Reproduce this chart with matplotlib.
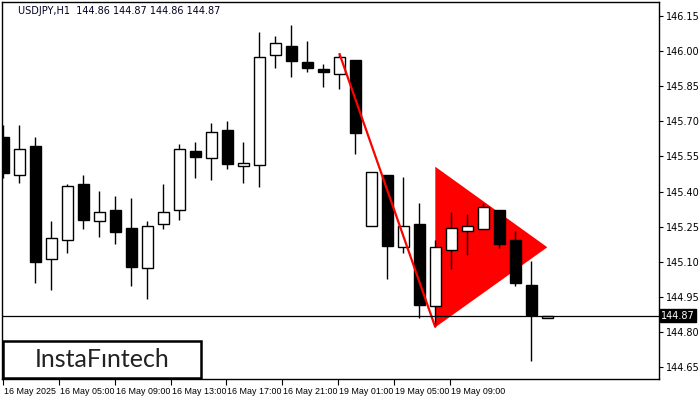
import matplotlib
matplotlib.use("Agg")
import matplotlib.pyplot as plt
import numpy as np
from matplotlib.patches import Rectangle
from matplotlib.transforms import offset_copy

# ---- data ----
opens  = [145.634, 145.469, 145.594, 145.110, 145.191, 145.432, 145.273, 145.321, 145.244, 145.072,
          145.260, 145.320, 145.573, 145.542, 145.663, 145.510, 145.512, 145.982, 146.020, 145.953,
          145.924, 145.901, 145.961, 145.251, 145.471, 145.162, 145.261, 144.909, 145.149, 145.230,
          145.241, 145.321, 145.193, 145.000, 144.860]
highs  = [145.684, 145.684, 145.634, 145.274, 145.433, 145.471, 145.402, 145.381, 145.372, 145.274,
          145.433, 145.603, 145.612, 145.693, 145.701, 145.612, 146.082, 146.065, 146.112, 146.043,
          145.945, 145.990, 145.961, 145.482, 145.471, 145.462, 145.351, 145.193, 145.312, 145.304,
          145.350, 145.321, 145.231, 145.103, 144.870]
lows   = [145.459, 145.438, 145.010, 144.980, 145.138, 145.241, 145.207, 145.177, 144.997, 144.939,
          145.241, 145.280, 145.459, 145.450, 145.496, 145.438, 145.421, 145.929, 145.891, 145.911,
          145.848, 145.839, 145.562, 145.251, 145.027, 145.138, 144.858, 144.820, 145.070, 145.130,
          145.241, 145.160, 144.997, 144.677, 144.860]
closes = [145.480, 145.580, 145.100, 145.200, 145.424, 145.280, 145.311, 145.228, 145.079, 145.251,
          145.311, 145.580, 145.549, 145.653, 145.519, 145.522, 145.974, 146.033, 145.959, 145.929,
          145.912, 145.974, 145.651, 145.482, 145.168, 145.251, 144.916, 145.162, 145.243, 145.251,
          145.332, 145.177, 145.010, 144.872, 144.870]

pole_x = [21, 27]
pole_y = [145.991, 144.820]
flag_x = [27, 27, 34]
flag_y = [145.506, 144.820, 145.162]

current_price = 144.87
y_ticks = [146.15, 146.00, 145.85, 145.70, 145.55, 145.40, 145.25, 145.10, 144.95, 144.80, 144.65]
x_tick_pos = [0.0, 3.48, 6.99, 10.48, 13.9, 17.4, 20.9, 24.4, 27.9]
x_tick_labels = ["16 May 2025", "16 May 05:00", "16 May 09:00", "16 May 13:00", "16 May 17:00",
                 "16 May 21:00", "19 May 01:00", "19 May 05:00", "19 May 09:00"]
header = "USDJPY,H1  144.86 144.87 144.86 144.87"

# ---- figure ----
fig = plt.figure(figsize=(7, 4), dpi=100)
ax = fig.add_axes([2/700, 1 - 379/400, 657/700, 377/400])
ax.set_xlim(-0.08, 40.98)
ax.set_ylim(144.599, 146.21)

x = np.arange(len(opens))
o = np.array(opens); c = np.array(closes); h = np.array(highs); l = np.array(lows)
bull = c >= o

# pattern (behind candles)
ax.fill(flag_x, flag_y, color="#ff0000", lw=0, zorder=1)

# wicks
ax.vlines(x, l, h, color="black", lw=1, zorder=2)
# bodies
bottoms = np.minimum(o, c)
heights = np.maximum(np.abs(c - o), 0.004)
ax.bar(x[bull], heights[bull], bottom=bottoms[bull], width=0.68,
       facecolor="white", edgecolor="black", lw=1, zorder=3)
ax.bar(x[~bull], heights[~bull], bottom=bottoms[~bull], width=0.68,
       facecolor="black", edgecolor="black", lw=1, zorder=3)

# pole line
ax.plot(pole_x, pole_y, color="#ff0000", lw=1.6, zorder=4, solid_capstyle="butt")

# current price line
ax.axhline(current_price, color="black", lw=0.9, zorder=5)

# axes styling
for s in ax.spines.values():
    s.set_linewidth(1)
    s.set_color("black")
ax.yaxis.tick_right()
ax.set_yticks(y_ticks)
ax.set_yticklabels([f"{v:.2f}" for v in y_ticks])
ax.set_xticks(x_tick_pos)
ax.set_xticklabels(x_tick_labels)
ax.tick_params(axis="y", direction="out", length=3, width=0.8, labelsize=7, pad=2, colors="black")
ax.tick_params(axis="x", direction="out", length=4, width=0.8, labelsize=6.4, pad=1.5, colors="black")
for t in ax.get_xticklabels():
    t.set_horizontalalignment("left")
    t.set_family("Liberation Sans")
    t.set_transform(offset_copy(t.get_transform(), fig=fig, x=1, y=0, units="dots"))

# current price tag
ax.text(1.003, current_price, "144.87", transform=ax.get_yaxis_transform(),
        fontsize=7, color="white", va="center", ha="left",
        bbox=dict(boxstyle="square,pad=0.15", facecolor="black", edgecolor="black"), zorder=6,
        clip_on=False)

# header
fig.text(18/700, 1 - 11/400, header, fontsize=7, color="#000022", va="center", ha="left")

# logo
fig.patches.append(Rectangle((3/700, 1 - 378/400), 198/700, 37/400, transform=fig.transFigure,
                             facecolor="white", edgecolor="black", lw=1.8, zorder=10))
fig.text(102/700, 1 - 359.5/400, "InstaF\u0131ntech", fontsize=18, color="#222222",
         va="center", ha="center", zorder=11, family="Lato")

fig.savefig("out.png", dpi=100)
